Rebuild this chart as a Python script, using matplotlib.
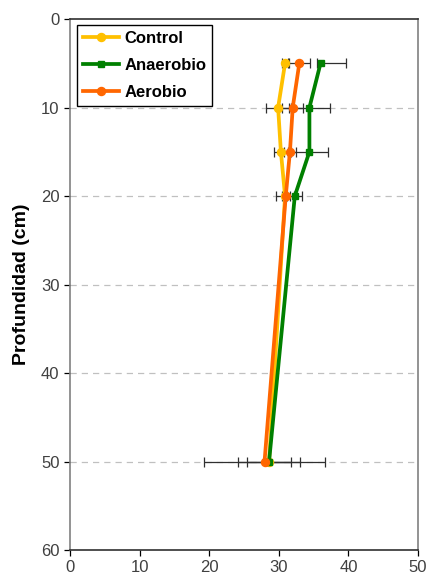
import matplotlib.pyplot as plt

plt.rcParams['font.family'] = ['Liberation Sans', 'DejaVu Sans']

# depth (cm)
depth = [5, 10, 15, 20, 50]

# values (x) and error bar extents (lower, upper)
control = [30.9, 29.9, 30.3, 30.9, 28.6]
control_err = [[0.45, 1.8, 1.0, 1.35, 3.1],
               [0.45, 1.8, 1.0, 1.35, 3.1]]

anaerobio = [36.0, 34.4, 34.4, 32.3, 28.6]
anaerobio_err = [[0.55, 2.9, 2.6, 1.1, 4.4],
                 [3.65, 2.9, 2.6, 1.1, 4.4]]

aerobio = [32.95, 32.0, 31.6, 31.0, 27.95]
aerobio_err = [[1.5, 1.5, 0.9, 0.6, 8.65],
               [1.5, 1.5, 0.9, 0.6, 8.65]]

fig = plt.figure(figsize=(4.28, 5.80), dpi=100)
ax = fig.add_axes([0.1636, 0.0517, 0.8130, 0.9155])

for y in [10, 20, 30, 40, 50]:
    ax.axhline(y, color='#c0c0c0', lw=0.9, ls=(0, (5, 4)), zorder=0)

series = [
    ('Control', control, control_err, '#FFC000', 'o', 5.8),
    ('Anaerobio', anaerobio, anaerobio_err, '#008000', 's', 4.5),
    ('Aerobio', aerobio, aerobio_err, '#FF6600', 'o', 5.8),
]
for name, vals, err, col, mk, ms in series:
    ax.errorbar(vals, depth, xerr=err, fmt='none', ecolor='#303030',
                elinewidth=0.9, capsize=3.5, capthick=0.9, zorder=2)
for name, vals, err, col, mk, ms in series:
    ax.plot(vals, depth, color=col, lw=2.7, marker=mk, ms=ms, label=name, zorder=3)

ax.set_xlim(0, 50)
ax.set_ylim(60, 0)
ax.set_xticks(range(0, 51, 10))
ax.set_yticks(range(0, 61, 10))
ax.tick_params(axis='both', labelsize=12, labelcolor='#404040', length=4, width=0.9)
ax.set_ylabel('Profundidad (cm)', fontsize=14, fontweight='bold', labelpad=8)

ax.spines['left'].set_color('#808080')
ax.spines['right'].set_color('#808080')
ax.spines['top'].set_color('#303030')
ax.spines['bottom'].set_color('#303030')
for s in ax.spines.values():
    s.set_linewidth(1.2)

leg = ax.legend(loc='upper left', bbox_to_anchor=(0.02, 0.988), fancybox=False,
                edgecolor='black', framealpha=1, prop={'weight': 'bold', 'size': 12},
                handlelength=2.2, handletextpad=0.3, labelspacing=0.72,
                borderpad=0.35, borderaxespad=0.0)
leg.get_frame().set_linewidth(1.0)

fig.savefig('out.png', dpi=100)
